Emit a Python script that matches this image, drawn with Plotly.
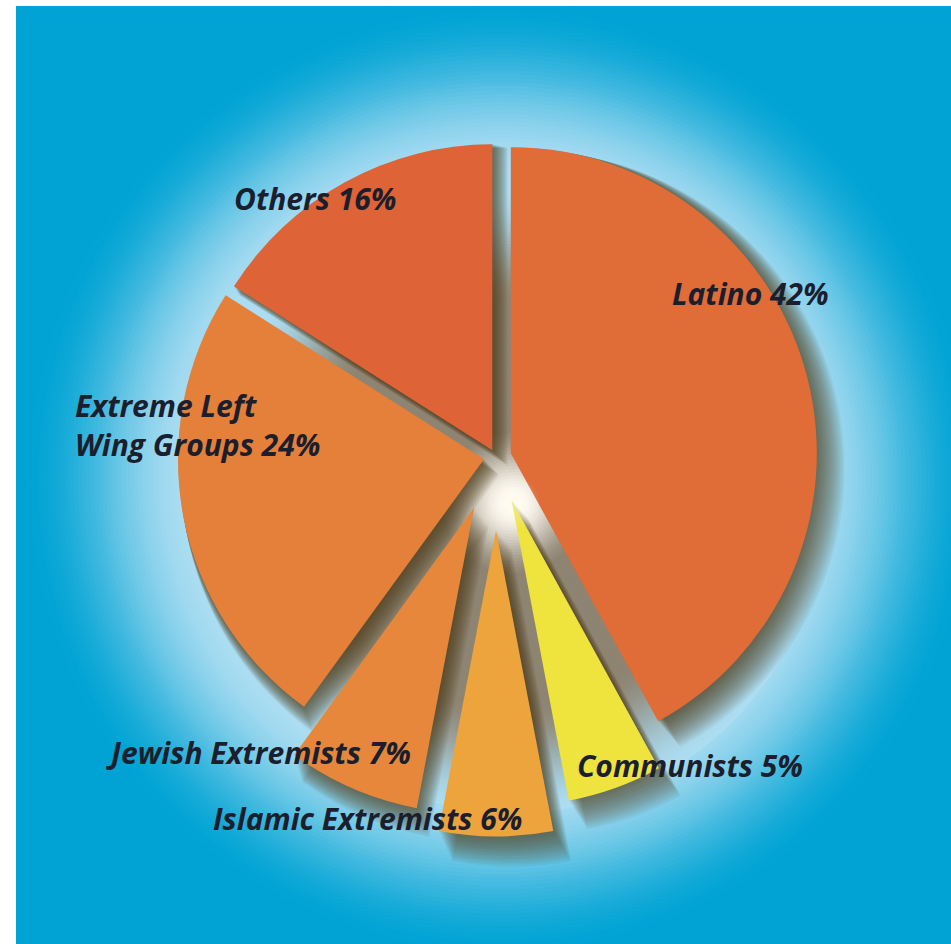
import plotly.graph_objects as go

# ---- data ----
labels = ["Latino", "Communists", "Islamic Extremists", "Jewish Extremists",
          "Extreme Left Wing Groups", "Others"]
values = [42, 5, 6, 7, 24, 16]
label_texts = ["Latino 42%", "Communists 5%", "Islamic Extremists 6%",
               "Jewish Extremists 7%", "Extreme Left<br>Wing Groups 24%", "Others 16%"]

# ---- styling ----
W, H = 951, 944
slice_colors = ["#E06C38", "#EFE33E", "#EDA43C", "#E6873B", "#E4803A", "#DE6336"]
pulls = [0.05, 0.15, 0.24, 0.18, 0.04, 0.025]
CX, CY, R = 496, 457, 306
BASE = (0, 163, 212)
LIGHT = (172, 221, 242)
GAP = (142, 132, 114)
WHITE = (255, 251, 242)


def domain_for(cx, cy, r):
    half = r * (1 + max(pulls))
    return dict(x=[(cx - half) / W, (cx + half) / W],
                y=[(H - cy - half) / H, (H - cy + half) / H])


def lerp(a, b, t):
    t = max(0.0, min(1.0, t))
    return tuple(int(round(a[i] + (b[i] - a[i]) * t)) for i in range(3))


def smooth(t):
    t = max(0.0, min(1.0, t))
    return t * t * (3 - 2 * t)


def circ(x, y, r, color, layer="below"):
    return dict(type="circle", xref="paper", yref="paper",
                x0=(x - r) / W, x1=(x + r) / W, y0=(H - y - r) / H, y1=(H - y + r) / H,
                fillcolor=color, line=dict(width=0), layer=layer)


shapes = [dict(type="rect", xref="paper", yref="paper", x0=0, x1=1, y0=0, y1=1,
               fillcolor="rgb(%d,%d,%d)" % BASE, line=dict(width=0), layer="below")]
GX, GY = 500, 480
for r in range(490, 300, -4):
    c = lerp(LIGHT, BASE, smooth((r - 310) / 170))
    shapes.append(circ(GX, GY, r, "rgb(%d,%d,%d)" % c))
# inner part: shadowy gaps with a white glow at the hub
IX, IY = 513, 503
for r in range(310, 0, -3):
    if r > 70:
        c = lerp(GAP, LIGHT, smooth((r - 200) / 115))
    else:
        c = lerp(WHITE, GAP, smooth((r - 8) / 70))
    shapes.append(circ(IX, IY, r, "rgb(%d,%d,%d)" % c))
# white frame (left and top)
shapes.append(dict(type="rect", xref="paper", yref="paper", x0=0, x1=16 / W, y0=0, y1=1,
                   fillcolor="white", line=dict(width=0), layer="below"))
shapes.append(dict(type="rect", xref="paper", yref="paper", x0=0, x1=1, y0=1 - 6 / H, y1=1,
                   fillcolor="white", line=dict(width=0), layer="below"))

fig = go.Figure()

# soft shadow layers (blurred look)
d = 26.0
while d > 0:
    fig.add_trace(go.Pie(
        labels=labels, values=values, sort=False, direction="clockwise", rotation=0,
        pull=pulls, domain=domain_for(CX + d * 0.6, CY + d * 0.6, R + d * 0.45),
        marker=dict(colors=["rgba(72,48,22,0.055)"] * len(values), line=dict(width=0)),
        textinfo="none", hoverinfo="skip", showlegend=False))
    d -= 1.5

fig.add_trace(go.Pie(
    labels=labels, values=values, sort=False, direction="clockwise", rotation=0,
    pull=pulls, domain=domain_for(CX, CY, R),
    marker=dict(colors=slice_colors, line=dict(width=0)),
    textinfo="none", hoverinfo="skip", showlegend=False))

# faint glow spilling over the hub
for i in range(8):
    shapes.append(circ(IX, IY, 26 - i * 3, "rgba(255,250,240,0.06)", layer="above"))

label_pos = [(750, 293, "center"), (690, 765, "center"), (367, 818, "center"),
             (258, 752, "center"), (73, 425, "left"), (315, 198, "center")]
annotations = []
for txt, (x, y, al) in zip(label_texts, label_pos):
    annotations.append(dict(
        x=x / W, y=1 - y / H, xref="paper", yref="paper", text=txt, showarrow=False,
        xanchor="left" if al == "left" else "center", yanchor="middle", align="left",
        font=dict(family="Open Sans", size=30, color="#1B1E2C", weight="bold",
                  style="italic")))

fig.update_layout(width=W, height=H, margin=dict(l=0, r=0, t=0, b=0),
                  paper_bgcolor="white", plot_bgcolor="white",
                  shapes=shapes, annotations=annotations)

fig.write_html("out.html", config={"displayModeBar": False},
               post_script="document.body.style.margin='0';"
                           "document.body.style.overflow='hidden';")
